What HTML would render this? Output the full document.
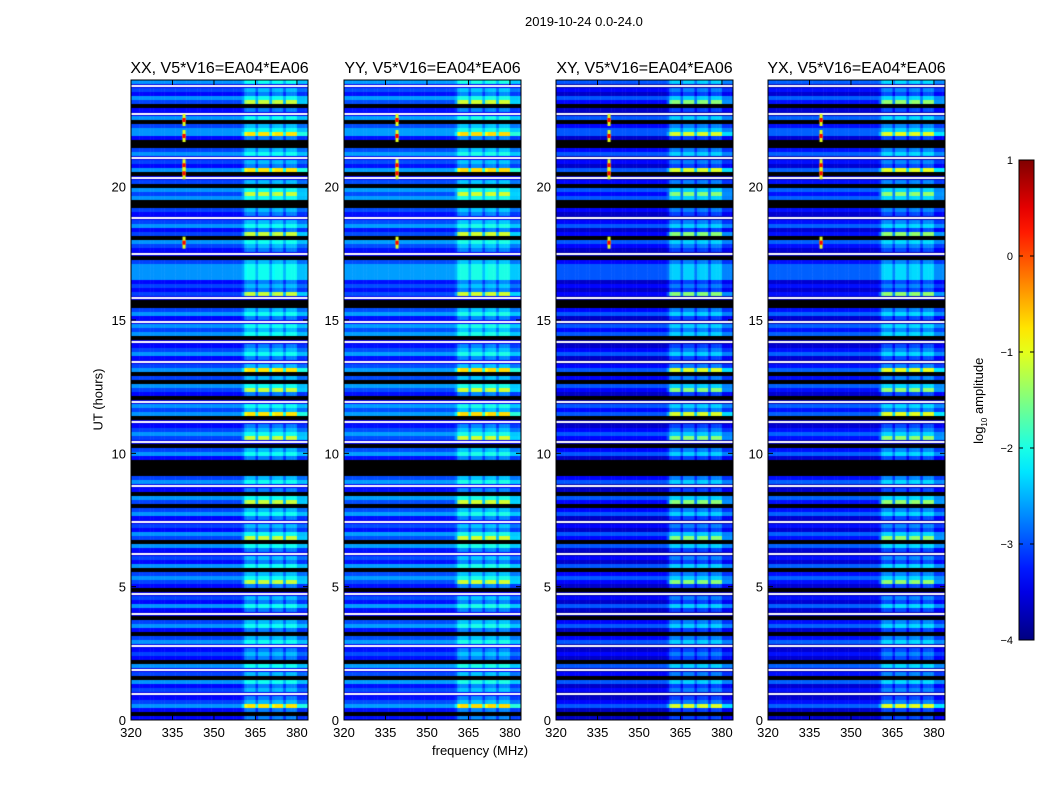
<!DOCTYPE html>
<html><head><meta charset="utf-8">
<style>
body{margin:0;background:#fff;font-family:"Liberation Sans",sans-serif;}
#root{position:relative;width:1050px;height:800px;overflow:hidden;background:#fff;}
.t{position:absolute;white-space:nowrap;color:#000;}
canvas{position:absolute;}
</style></head>
<body>
<div id="root">
<div class="t" style="left:525px;top:14px;font-size:13px;">2019-10-24 0.0-24.0</div>
<div class="t" style="left:432px;top:743px;font-size:13px;">frequency (MHz)</div>
<div class="t" style="left:60px;top:392px;font-size:13px;transform:rotate(-90deg);transform-origin:center;width:76px;text-align:center;">UT (hours)</div>
<div class="t" style="left:925px;top:392px;font-size:13px;transform:rotate(-90deg);width:110px;text-align:center;">log<sub style="font-size:8px">10</sub> amplitude</div>
<svg id="ov" width="1050" height="800" style="position:absolute;left:0;top:0"></svg>
</div>
<script>
// ---- data ----
const panelTitles = ["XX, V5*V16=EA04*EA06","YY, V5*V16=EA04*EA06","XY, V5*V16=EA04*EA06","YX, V5*V16=EA04*EA06"];
const panelOffsets = [0.0, 0.05, -0.3, -0.25];
const xTicks = [320,335,350,365,380];
const yTicks = [0,5,10,15,20];
const cbTicks = [1,0,-1,-2,-3,-4];
// row pattern, top (24h) to bottom (0h): k black, w white line, b dark blue, m mid blue, c light blue; uppercase = strong band
const rowPattern = "cwmbcMkbwckmcCbkkmcwmbCkwmkcMckk" + "mbwmcbMkcmbwkmccccbmbMwkkmcbwcmc" + "kwbmcbwmCkmkcMbkwcmCkwbmcMwkmcbk" + "kkkmcwbkcMkmcbwmbcMkcbwmbckmcMbk" + "wmbcbwkmcbkmcwbmbkcwmkcbmwbmCbkb";
const levelByCode = {b:-3.35, m:-3.05, c:-2.65};
// band gain per 1 MHz bin from 320 to 384
const bandGain = [0,0,0,0,0,0,0,0,0,0, 0,0,0,0,0,0,0,0,0,0, 0,0,0,0,0,0,0,0,0,0, 0,0,0,0,0,0,0,0,0,0,
  0.2,0.9,1,1,1,0.3,1,1,1,1, 0.3,0.9,1,1,1,0.3,1,1,1,1, 0.35,0.35,0.35,0.35];
// strong-feature spikes (hours) on the 339 MHz channel
const spikeHours = [22.5, 21.9, 20.8, 20.5, 17.9];
const spikeFreq = 339;

// ---- geometry ----
const panelX = [131,344,556,768], PW=177, PT=80, PB=720, PH=640;
const fMin=320, fMax=384, tMin=0, tMax=24;
const xScale = f => (f-fMin)/(fMax-fMin)*PW;
const yScale = h => PH - (h-tMin)/(tMax-tMin)*PH;
function jet(v){
  let t=Math.max(0,Math.min(1,(v+4)/5));
  const c=x=>Math.round(255*Math.max(0,Math.min(1,x)));
  return `rgb(${c(1.5-Math.abs(4*t-3))},${c(1.5-Math.abs(4*t-2))},${c(1.5-Math.abs(4*t-1))})`;
}
const root=document.getElementById('root');
const ov=document.getElementById('ov');
const NS="http://www.w3.org/2000/svg";
function sv(tag,attrs,parent){const e=document.createElementNS(NS,tag);for(const k in attrs)e.setAttribute(k,attrs[k]);(parent||ov).appendChild(e);return e;}
const nRows=rowPattern.length, rowH=(tMax-tMin)/nRows, nBins=bandGain.length, binW=(fMax-fMin)/nBins;

panelX.forEach((px,p)=>{
  const cv=document.createElement('canvas');
  cv.width=PW;cv.height=PH;cv.style.left=px+'px';cv.style.top=PT+'px';
  
  
  root.insertBefore(cv,ov);
  const g=cv.getContext('2d');
  for(let r=0;r<nRows;r++){
    const code=rowPattern[r];
    const hTop=tMax-r*rowH, hBot=hTop-rowH;
    const y0=yScale(hTop), y1=yScale(hBot);
    if(code==='k'){g.fillStyle='#000';g.fillRect(0,y0,PW,y1-y0);continue;}
    if(code==='w'){
      g.fillStyle=jet(-3.5+panelOffsets[p]);g.fillRect(0,y0,PW,y1-y0);
      g.fillStyle='#fff';g.fillRect(0,y0+1,PW,2);continue;
    }
    const strong = code===code.toUpperCase();
    const base=levelByCode[code.toLowerCase()]+panelOffsets[p];
    for(let b=0;b<nBins;b++){
      const f0=fMin+b*binW;
      const v=base+bandGain[b]*(strong?1.9:0.6);
      g.fillStyle=jet(v);
      g.fillRect(xScale(f0),y0,xScale(f0+binW)-xScale(f0)+0.5,y1-y0+0.3);
    }
  }
  spikeHours.forEach(h=>{
    g.fillStyle=jet(0.3);
    g.fillRect(xScale(spikeFreq)-1,yScale(h)-2,3,4);
    g.fillStyle=jet(-1);
    g.fillRect(xScale(spikeFreq)-1,yScale(h)-6,3,12);
    g.fillStyle=jet(0.4);
    g.fillRect(xScale(spikeFreq)-1,yScale(h)-2,3,4);
  });
  // frame & ticks
  const ax=sv('g',{});
  
  
  sv('rect',{x:px,y:PT,width:PW,height:PH,fill:'none',stroke:'#000','stroke-width':1},ax);
  xTicks.forEach(f=>{
    const x=px+xScale(f);
    sv('line',{x1:x,y1:PB,x2:x,y2:PB-5,stroke:'#000'},ax);
    sv('line',{x1:x,y1:PT,x2:x,y2:PT+5,stroke:'#000'},ax);
    const t=sv('text',{x:x,y:PB+17,'font-size':13,'text-anchor':'middle','font-family':'Liberation Sans'},ax);t.textContent=f;
  });
  yTicks.forEach(h=>{
    const y=PT+yScale(h);
    sv('line',{x1:px,y1:y,x2:px+5,y2:y,stroke:'#000'},ax);
    sv('line',{x1:px+PW,y1:y,x2:px+PW-5,y2:y,stroke:'#000'},ax);
    const t=sv('text',{x:px-5,y:y+5,'font-size':13,'text-anchor':'end','font-family':'Liberation Sans'},ax);t.textContent=h;
  });
  const tt=sv('text',{x:px+PW/2,y:73,'font-size':16,'text-anchor':'middle','font-family':'Liberation Sans'},ax);
  tt.textContent=panelTitles[p];
  
});
// colorbar
const defs=sv('defs',{});
const lg=sv('linearGradient',{id:'jet',x1:0,y1:1,x2:0,y2:0},defs);
for(let i=0;i<=20;i++){sv('stop',{offset:i/20,'stop-color':jet(-4+5*i/20)},lg);}
const cb=sv('g',{});


sv('rect',{x:1019,y:160,width:15,height:480,fill:'url(#jet)',stroke:'#000'},cb);
cbTicks.forEach(v=>{
  const y=160+(1-v)/5*480;
  sv('line',{x1:1019,y1:y,x2:1023,y2:y,stroke:'#000'},cb);
  sv('line',{x1:1034,y1:y,x2:1030,y2:y,stroke:'#000'},cb);
  const t=sv('text',{x:1013,y:y+4,'font-size':11,'text-anchor':'end','font-family':'Liberation Sans'},cb);
  t.textContent=v<0?'\u2212'+(-v):v;
});
</script>
</body></html>
